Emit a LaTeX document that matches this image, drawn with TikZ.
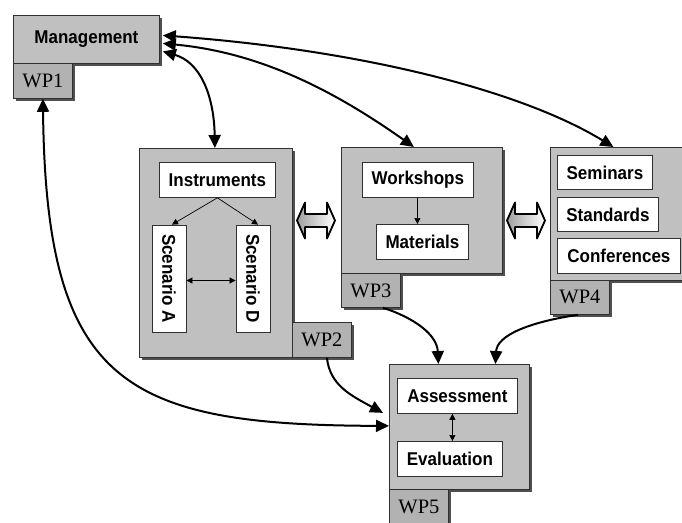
\documentclass[tikz,border=0pt]{standalone}
\usepackage{fontspec}
\setmainfont{Liberation Serif}
\setsansfont{Liberation Sans}[FakeStretch=0.92]
\usetikzlibrary{arrows.meta,shadows}
\definecolor{boxg}{HTML}{C0C0C0}
\definecolor{tabg}{HTML}{B2B2B2}
\definecolor{shad}{HTML}{505050}
\definecolor{edgec}{HTML}{303030}
\tikzset{
  gbox/.style={draw=edgec, line width=0.8pt, fill=boxg, anchor=north west, inner sep=0pt,
    drop shadow={shadow xshift=3pt, shadow yshift=-3pt, opacity=1, fill=shad},
    font=\sffamily\bfseries\fontsize{18.5}{20}\selectfont},
  tabbox/.style={gbox, fill=tabg, font=\rmfamily\fontsize{20.5}{22}\selectfont},
  wbox/.style={draw=edgec, line width=0.8pt, fill=white, inner sep=0pt, anchor=north west,
    font=\sffamily\bfseries\fontsize{18.5}{20}\selectfont},
  rbox/.style={wbox, anchor=center, rotate=-90, minimum width=107pt, minimum height=34pt},
  link/.style={line width=2pt, {Triangle[length=13pt,width=12pt]}-{Triangle[length=13pt,width=12pt]}},
  onelink/.style={line width=2pt, -{Triangle[length=13pt,width=12pt]}},
  smallarrow/.style={line width=0.7pt, -{Triangle[length=6pt,width=6pt]}},
  smallboth/.style={line width=0.7pt, {Triangle[length=6pt,width=6pt]}-{Triangle[length=6pt,width=6pt]}},
  dblarrow/.pic={
    \draw[line width=1.8pt, line join=round, left color=gray!75, right color=white]
      (-19,0) -- (-11,-18) -- (-11,-6.5) -- (11,-6.5) -- (11,-18) -- (19,0)
      -- (11,18) -- (11,6.5) -- (-11,6.5) -- (-11,18) -- cycle;
  }
}
\begin{document}
\begin{tikzpicture}[x=1pt,y=-1pt]
\useasboundingbox (0,0) rectangle (682,522);
\clip (0,0) rectangle (682,522);

% WP1
\node[gbox, minimum width=146pt, minimum height=48pt] (mgmt) at (13,15) {Management};
\node[tabbox, minimum width=59pt, minimum height=35pt] (wp1) at (13,63) {WP1};

% WP2
\node[gbox, minimum width=153pt, minimum height=209pt] (wp2box) at (139,148) {};
\node[tabbox, minimum width=59pt, minimum height=35pt] (wp2tab) at (292,322) {WP2};
\node[wbox, minimum width=116pt, minimum height=35pt] (inst) at (159,162) {Instruments};
\node[rbox] (scA) at (169,278.5) {Scenario A};
\node[rbox] (scD) at (253,278.5) {Scenario D};

% WP3
\node[gbox, minimum width=161pt, minimum height=126pt] (wp3box) at (341,147) {};
\node[tabbox, minimum width=59pt, minimum height=34pt] (wp3tab) at (341,273) {WP3};
\node[wbox, minimum width=111pt, minimum height=35pt] (ws) at (362,162) {Workshops};
\node[wbox, minimum width=92pt, minimum height=35pt] (mat) at (376,224) {Materials};

% WP4
\node[gbox, minimum width=140pt, minimum height=133pt] (wp4box) at (550,147) {};
\node[tabbox, minimum width=59pt, minimum height=34pt] (wp4tab) at (550,280) {WP4};
\node[wbox, minimum width=95pt, minimum height=34pt] (sem) at (557,155) {Seminars};
\node[wbox, minimum width=101pt, minimum height=34pt] (std) at (557,197) {Standards};
\node[wbox, minimum width=123pt, minimum height=35pt] (conf) at (557,238) {Conferences};

% WP5
\node[gbox, minimum width=140pt, minimum height=125pt] (wp5box) at (389,364) {};
\node[tabbox, minimum width=59pt, minimum height=35pt] (wp5tab) at (389,489) {WP5};
\node[wbox, minimum width=120pt, minimum height=35pt] (asm) at (397,378) {Assessment};
\node[wbox, minimum width=105pt, minimum height=35pt] (ev) at (397,441) {Evaluation};

% inner arrows
\draw[smallarrow] (inst.south) -- ([xshift=3pt]scA.west);
\draw[smallarrow] (inst.south) -- ([xshift=5pt]scD.west);
\draw[smallboth] ([yshift=-2pt]scA.north) -- ([yshift=-2pt]scD.south);
\draw[smallarrow] ([xshift=-0.5pt]ws.south) -- ([xshift=-0.5pt]ws.south |- mat.north);
\draw[smallboth] ([xshift=-5pt]asm.south) -- ([xshift=-5pt]asm.south |- ev.north);

% block double arrows
\pic at (316,220.5) {dblarrow};
\pic at (526,220.5) {dblarrow};

% connectors
\draw[link] ([xshift=3pt,yshift=-12pt]mgmt.east) .. controls (200,62) and (214,95) .. ([xshift=-1pt]wp2box.north);
\draw[link] ([xshift=3pt,yshift=-4pt]mgmt.east) .. controls (265,53) and (340,95) .. ([xshift=-8pt]wp3box.north);
\draw[link] ([xshift=3pt,yshift=4pt]mgmt.east) .. controls (360,50) and (520,90) .. ([xshift=-7pt]wp4box.north);
\draw[link] (wp1.south) .. controls (46,385) and (125,425) .. ([yshift=1pt]wp5box.west);
\draw[onelink] ([xshift=5pt]wp2tab.south) .. controls (330,385) and (350,395) .. ([xshift=-6pt,yshift=14pt]wp5box.west);
\draw[onelink] ([xshift=12pt]wp3tab.south) .. controls (415,318) and (437,335) .. ([xshift=-21pt]wp5box.north);
\draw[onelink] ([xshift=-2pt]wp4tab.south) .. controls (530,322) and (497,335) .. ([xshift=36pt]wp5box.north);
\end{tikzpicture}
\end{document}
